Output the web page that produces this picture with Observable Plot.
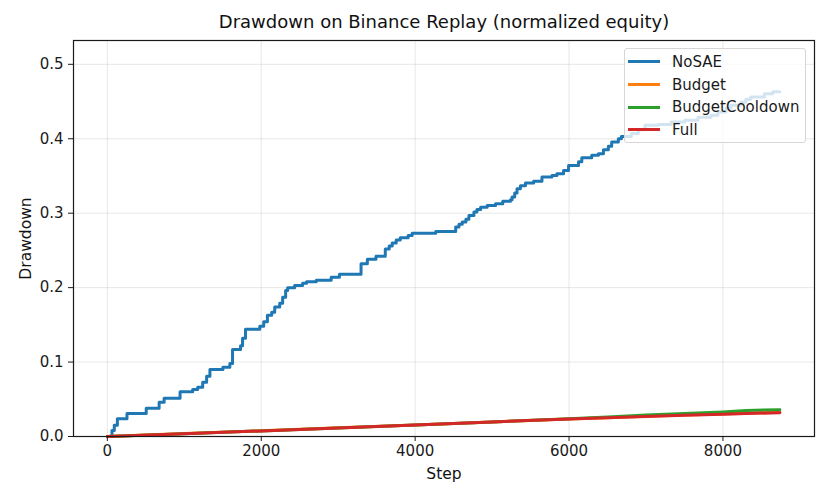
<!DOCTYPE html>
<html>
<head>
<meta charset="utf-8">
<script src="https://cdn.jsdelivr.net/npm/d3@7"></script>
<script src="https://cdn.jsdelivr.net/npm/@observablehq/plot@0.6"></script>
<style>
  html, body { margin: 0; padding: 0; background: #fff; }
  #wrap { position: relative; width: 830px; height: 501px; font-family: "DejaVu Sans", sans-serif; }
  #legend {
    position: absolute; left: 624px; top: 48px; width: 182px; height: 95px;
    background: rgba(255,255,255,0.8); border: 1px solid #d6d6d6; border-radius: 3px;
    box-sizing: border-box; padding-top: 1.5px;
  }
  .row { display: flex; align-items: center; height: 22.7px; font-size: 15px; color: #1a1a1a; }
  .swatch { width: 32px; height: 0; border-top: 3px solid; margin-left: 3px; margin-right: 12px; }
</style>
</head>
<body>
<div id="wrap"></div>
<script>
const title = "Drawdown on Binance Replay (normalized equity)";
const xLabel = "Step";
const yLabel = "Drawdown";
const seriesNames = ["NoSAE", "Budget", "BudgetCooldown", "Full"];
const seriesColors = ["#1f77b4", "#ff7f0e", "#2ca02c", "#d62728"];
const xTicks = [0, 2000, 4000, 6000, 8000];
const yTicks = [0, 0.1, 0.2, 0.3, 0.4, 0.5];

// NoSAE (step-after drawdown)
const nosaeSteps = [0, 60, 90, 130, 255, 505, 673, 738, 945, 1109, 1174, 1239, 1290, 1333, 1502, 1592, 1627, 1731, 1757, 1795, 1981, 2032, 2080, 2136, 2175, 2240, 2278, 2317, 2343, 2434, 2537, 2589, 2715, 2909, 3016, 3297, 3379, 3491, 3612, 3663, 3702, 3754, 3806, 3909, 3961, 4268, 4527, 4570, 4612, 4660, 4699, 4764, 4803, 4851, 4936, 5045, 5139, 5239, 5260, 5294, 5324, 5368, 5433, 5540, 5648, 5778, 5842, 5929, 5994, 6123, 6166, 6295, 6382, 6447, 6511, 6554, 6641, 6680, 6809, 6900, 6987, 7159, 7327, 7504, 7676, 7845, 7935, 8039, 8104, 8233, 8298, 8363, 8540, 8647, 8740];
const nosaeDD = [0, 0.008, 0.015, 0.024, 0.031, 0.038, 0.046, 0.0515, 0.060, 0.063, 0.066, 0.073, 0.081, 0.090, 0.093, 0.098, 0.117, 0.122, 0.132, 0.144, 0.148, 0.154, 0.163, 0.167, 0.174, 0.179, 0.187, 0.196, 0.200, 0.203, 0.206, 0.208, 0.210, 0.214, 0.218, 0.232, 0.238, 0.242, 0.252, 0.256, 0.260, 0.264, 0.267, 0.270, 0.273, 0.2755, 0.2815, 0.285, 0.288, 0.292, 0.297, 0.3015, 0.305, 0.308, 0.3105, 0.3127, 0.316, 0.318, 0.3217, 0.327, 0.333, 0.337, 0.3405, 0.343, 0.3486, 0.3508, 0.353, 0.3575, 0.364, 0.369, 0.3746, 0.3777, 0.380, 0.3853, 0.390, 0.3956, 0.400, 0.403, 0.407, 0.412, 0.418, 0.419, 0.4225, 0.4247, 0.429, 0.4315, 0.436, 0.441, 0.445, 0.449, 0.453, 0.456, 0.4606, 0.463, 0.463];

// Budget / BudgetCooldown / Full
const smallSteps = [0, 1000, 2000, 3000, 4000, 5000, 6000, 6500, 7000, 7500, 8000, 8300, 8740];
const budgetDD = [0, 0.0039, 0.0076, 0.0116, 0.0156, 0.0196, 0.0236, 0.0253, 0.0272, 0.0288, 0.0302, 0.0312, 0.0325];
const cooldownDD = [0, 0.0038, 0.0075, 0.0115, 0.0155, 0.0195, 0.0237, 0.0262, 0.0288, 0.0308, 0.0330, 0.0350, 0.0360];
const fullDD = [0, 0.0038, 0.0075, 0.0115, 0.0155, 0.0195, 0.0235, 0.0252, 0.0270, 0.0285, 0.0300, 0.0308, 0.0320];

const nosae = nosaeSteps.map((s, i) => ({step: s, dd: nosaeDD[i]}));
const mk = arr => smallSteps.map((s, i) => ({step: s, dd: arr[i]}));
const budget = mk(budgetDD), cooldown = mk(cooldownDD), full = mk(fullDD);

const chart = Plot.plot({
  width: 830, height: 501,
  marginLeft: 73, marginRight: 16, marginTop: 40, marginBottom: 65,
  style: {fontFamily: "DejaVu Sans, sans-serif", fontSize: "15px", color: "#1a1a1a", background: "#fff"},
  x: {domain: [-440, 9190]},
  y: {domain: [0, 0.532]},
  marks: [
    Plot.gridX(xTicks, {stroke: "#b0b0b0", strokeOpacity: 0.35, strokeWidth: 0.9}),
    Plot.gridY(yTicks, {stroke: "#b0b0b0", strokeOpacity: 0.35, strokeWidth: 0.9}),
    Plot.line(nosae, {x: "step", y: "dd", stroke: seriesColors[0], strokeWidth: 3, curve: "step-after"}),
    Plot.line(budget, {x: "step", y: "dd", stroke: seriesColors[1], strokeWidth: 3}),
    Plot.line(cooldown, {x: "step", y: "dd", stroke: seriesColors[2], strokeWidth: 3}),
    Plot.line(full, {x: "step", y: "dd", stroke: seriesColors[3], strokeWidth: 3}),
    Plot.frame({stroke: "#1a1a1a", strokeWidth: 1.2}),
    Plot.axisX(xTicks, {tickSize: 5, tickPadding: 4, tickFormat: d => String(d), fontSize: 15, label: null, stroke: "#1a1a1a"}),
    Plot.axisY(yTicks, {tickSize: 5, tickPadding: 5, tickFormat: d3.format(".1f"), fontSize: 15, label: null, stroke: "#1a1a1a"}),
    Plot.text([title], {frameAnchor: "top", lineAnchor: "middle", dy: -18, fontSize: 18, fill: "#111"}),
    Plot.text([xLabel], {frameAnchor: "bottom", lineAnchor: "middle", dy: 38, fontSize: 15.5, fill: "#111"}),
    Plot.text([yLabel], {frameAnchor: "left", textAnchor: "middle", lineAnchor: "middle", dx: -47, rotate: -90, fontSize: 15.5, fill: "#111"})
  ]
});
const wrap = document.getElementById("wrap");
wrap.appendChild(chart);

const legend = document.createElement("div");
legend.id = "legend";
seriesNames.forEach((n, i) => {
  const row = document.createElement("div");
  row.className = "row";
  const sw = document.createElement("span");
  sw.className = "swatch";
  sw.style.borderTopColor = seriesColors[i];
  const lab = document.createElement("span");
  lab.textContent = n;
  row.appendChild(sw); row.appendChild(lab);
  legend.appendChild(row);
});
wrap.appendChild(legend);
</script>
</body>
</html>
